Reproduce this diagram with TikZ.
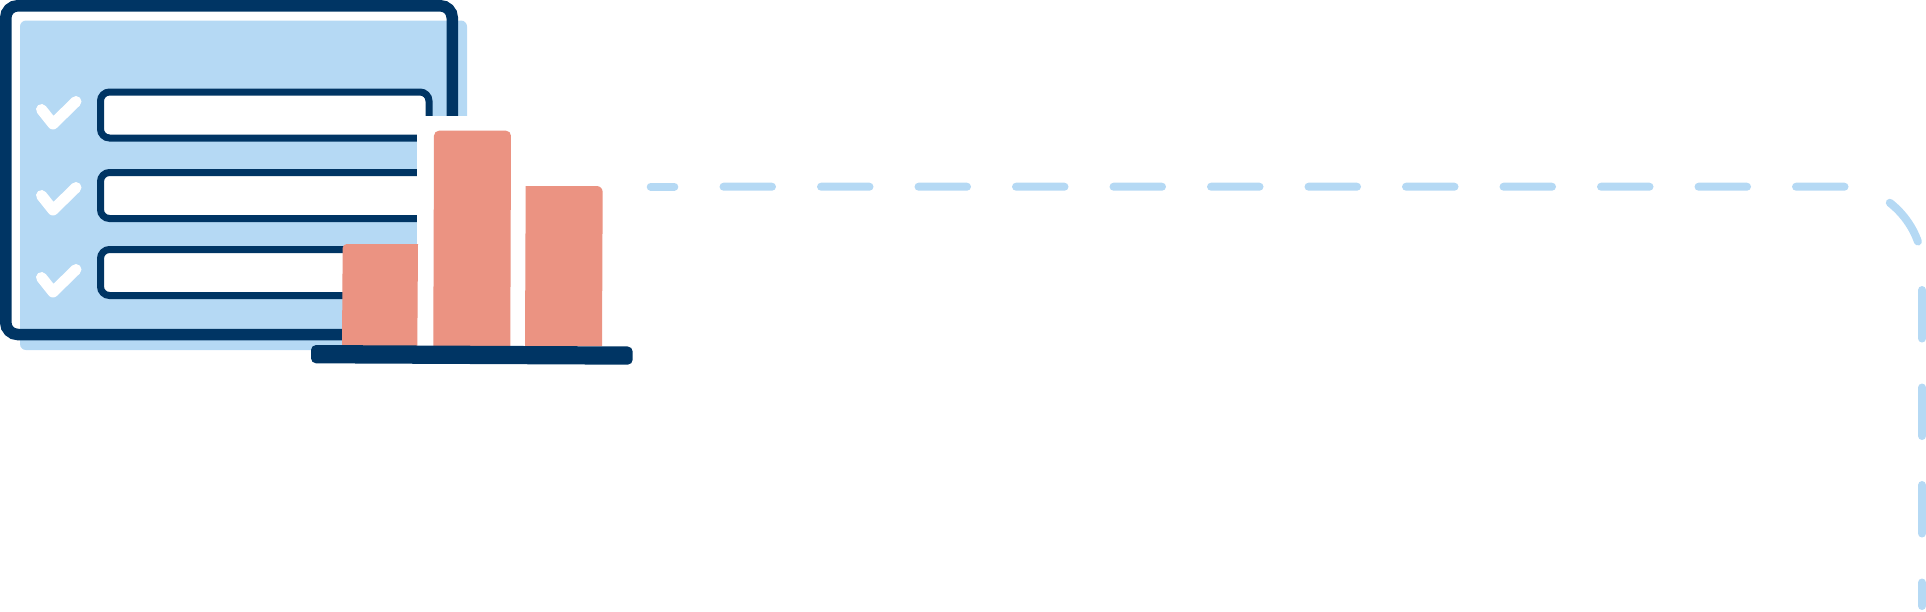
\documentclass[tikz,border=0pt]{standalone}
\definecolor{navy}{RGB}{0,53,100}
\definecolor{paleblue}{RGB}{181,217,244}
\definecolor{salmon}{RGB}{235,147,130}
\tikzset{
	flowline/.style={paleblue,line width=8pt,line cap=round},
	rowbox/.style={draw=navy,fill=white,line width=7pt,rounded corners=9pt},
	tick/.style={white,line width=11pt,line cap=round,line join=round}
}
\begin{document}
\begin{tikzpicture}[x=1pt,y=-1pt]
		\useasboundingbox (0,0) rectangle (1926,611);
		%Back sheet
			\fill[paleblue,rounded corners=6pt] (20,20.5) rectangle (467,350);
		%Frame
			\draw[navy,line width=11.5pt,rounded corners=12pt] (5.75,5.75) rectangle (452.25,334.5);
		%Rows and ticks
			\foreach \rowtop/\ticktop in {88.5/0,169/86,246/168}
			{
				\draw[rowbox] (100.5,\rowtop+3.5) rectangle (429,\rowtop+49.5);
				\draw[tick,yshift=-\ticktop pt] (41.5,109.5) -- (53,124) -- (76,101.5);
			}
		%Clearance round the bars
			\fill[white] (417,116) rectangle (525.5,346);
		%Bars
			\fill[salmon] (342,346) [rounded corners=4pt] -- (342.7,244) [sharp corners] -- (418,244) -- (417.3,346);
			\fill[salmon,rounded corners=5pt] (433.3,346) -- (434,130.7) -- (511,130.7) -- (510.3,346);
			\fill[salmon] (525,346) -- (525.7,186) [rounded corners=6pt] -- (602.7,186) -- (602,346);
		%Base
			\fill[navy,rounded corners=5pt] (311,345) -- (632.7,346.5) -- (632.7,364.7) -- (311,363.3) -- cycle;
		%Dashed track
			\coordinate (stubstart) at (650.7,186.7);
			\coordinate (stubend) at (674.3,186.7);
			\coordinate (trackstart) at (723.5,186.7);
			\coordinate (trackbend) at (1846,186.7);
			\coordinate (trackdown) at (1922,260.7);
			\coordinate (trackend) at (1922,606);
			\draw[flowline] (stubstart) -- (stubend);
			\draw[flowline,dash pattern=on 48.5pt off 49pt] (trackstart) -- (trackbend) .. controls (1884,186.7) and (1919,222) .. (trackdown) -- (trackend);
	\end{tikzpicture}
\end{document}
